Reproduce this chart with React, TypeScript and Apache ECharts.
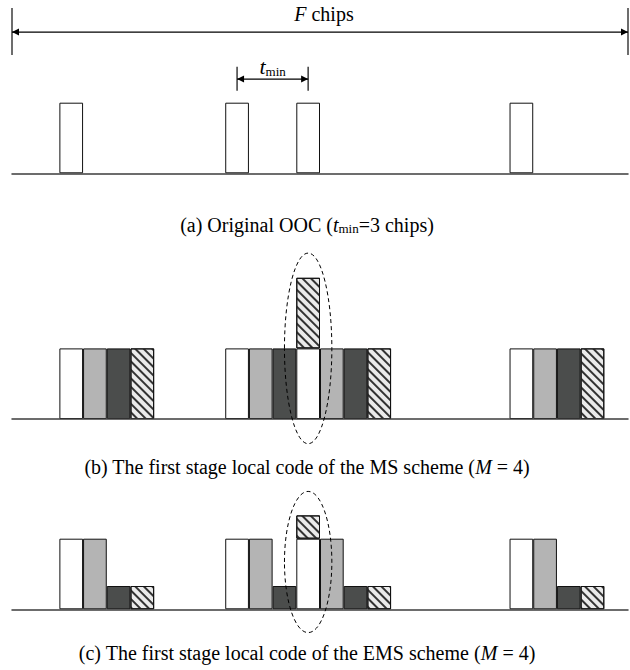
import React, { useEffect, useRef } from 'react';
import * as echarts from 'echarts';

// ---- data ----
const F_CHIPS = 26;
const chipCategories = [
  '0', '1', '2', '3', '4', '5', '6', '7', '8', '9', '10', '11', '12',
  '13', '14', '15', '16', '17', '18', '19', '20', '21', '22', '23', '24', '25',
];

// (a) original OOC: [chip, height]
const oocPulses: [number, number][] = [[2, 1], [9, 1], [12, 1], [21, 1]];

// (b) MS scheme (M = 4)
const msWhite: [number, number][] = [[2, 1], [9, 1], [12, 1], [21, 1]];
const msGray: [number, number][] = [[3, 1], [10, 1], [13, 1], [22, 1]];
const msDark: [number, number][] = [[4, 1], [11, 1], [14, 1], [23, 1]];
const msHatch: [number, number][] = [[5, 1], [12, 1], [15, 1], [24, 1]];

// (c) EMS scheme (M = 4)
const emsWhite: [number, number][] = [[2, 1], [9, 1], [12, 1], [21, 1]];
const emsGray: [number, number][] = [[3, 1], [10, 1], [13, 1], [22, 1]];
const emsDark: [number, number][] = [[4, 0.33], [11, 0.33], [14, 0.33], [23, 0.33]];
const emsHatch: [number, number][] = [[5, 0.33], [12, 0.33], [15, 0.33], [24, 0.33]];

const captionA = '(a) Original OOC ({t|t}{sub|min}=3 chips)';
const captionB = '(b) The first stage local code of the MS scheme ({i|M} = 4)';
const captionC = '(c) The first stage local code of the EMS scheme ({i|M} = 4)';

// ---- helpers ----
const toRow = (pairs: [number, number][]) => {
  const row: (number | string)[] = chipCategories.map(() => '-');
  pairs.forEach(([c, v]) => { row[c] = v; });
  return row;
};

const FONT = '"Liberation Serif", "Times New Roman", serif';
const WHITE = '#ffffff';
const GRAY = '#b4b4b4';
const DARK = '#4b4d4c';
const HATCH_BG = '#ebebeb';

const hatchDecal = {
  symbol: 'rect',
  symbolSize: 1,
  dashArrayX: [1, 0],
  dashArrayY: [1.1, 4],
  rotation: Math.PI / 4,
  color: '#333333',
};

const barSeries = (grid: number, name: string, pairs: [number, number][], color: string, hatch = false) => ({
  type: 'bar',
  name,
  xAxisIndex: grid,
  yAxisIndex: grid,
  stack: 'panel' + grid,
  barWidth: '100%',
  barCategoryGap: 0,
  data: toRow(pairs),
  itemStyle: {
    color,
    borderColor: '#111',
    borderWidth: 1,
    ...(hatch ? { decal: hatchDecal } : {}),
  },
  emphasis: { disabled: true },
  silent: true,
});

const baselines = [173.3, 419, 609.3];
const unit = 70.6;

export default function App() {
  const ref = useRef<HTMLDivElement>(null);
  useEffect(() => {
    const el = ref.current!;
    const chart = echarts.init(el, null, { renderer: 'svg' });
    const grids = baselines.map((b) => ({
      left: 12, right: 2, top: b - 2 * unit, height: 2 * unit, containLabel: false,
    }));
    chart.setOption({
      animation: false,
      backgroundColor: '#fff',
      grid: grids,
      xAxis: grids.map((_, i) => ({
        type: 'category',
        gridIndex: i,
        data: chipCategories,
        boundaryGap: true,
        axisLine: { show: true, lineStyle: { color: '#3c3c3c', width: 1.5 } },
        axisTick: { show: false },
        axisLabel: { show: false },
        splitLine: { show: false },
        z: 5,
      })),
      yAxis: grids.map((_, i) => ({
        type: 'value', gridIndex: i, min: 0, max: 2, show: false, splitLine: { show: false },
      })),
      series: [
        barSeries(0, 'OOC', oocPulses, WHITE),
        barSeries(1, 'MS white', msWhite, WHITE),
        barSeries(1, 'MS gray', msGray, GRAY),
        barSeries(1, 'MS dark', msDark, DARK),
        barSeries(1, 'MS hatch', msHatch, HATCH_BG, true),
        barSeries(2, 'EMS white', emsWhite, WHITE),
        barSeries(2, 'EMS gray', emsGray, GRAY),
        barSeries(2, 'EMS dark', emsDark, DARK),
        barSeries(2, 'EMS hatch', emsHatch, HATCH_BG, true),
      ],
    });

    const P = (i: number, x: number, y: number) =>
      chart.convertToPixel({ xAxisIndex: i, yAxisIndex: i }, [x, y]) as number[];
    const c0 = P(0, 0, 0);
    const chipW = P(0, 1, 0)[0] - c0[0];
    const unitPx = c0[1] - P(0, 0, 1)[1];
    const leftX = c0[0] - chipW / 2;
    const rightX = P(0, F_CHIPS - 1, 0)[0] + chipW / 2;
    const yA = (v: number) => P(0, 0, v)[1];

    const arrowHead = (x: number, y: number, dir: number) => ({
      type: 'polygon',
      shape: { points: [[x, y], [x - dir * 7, y - 3.5], [x - dir * 7, y + 3.5]] },
      style: { fill: '#000' },
      z: 100,
    });
    const hLine = (x1: number, x2: number, y: number) => ({
      type: 'line', shape: { x1, y1: y, x2, y2: y }, style: { stroke: '#000', lineWidth: 1.3 }, z: 100,
    });
    const vLine = (x: number, y1: number, y2: number) => ({
      type: 'line', shape: { x1: x, y1, x2: x, y2 }, style: { stroke: '#3c3c3c', lineWidth: 1.5 }, z: 100,
    });

    const fy = yA(2.0);
    const tx1 = P(0, oocPulses[1][0], 0)[0];
    const tx2 = P(0, oocPulses[2][0], 0)[0];
    const ty = yA(1.335);

    const ellB = P(1, 12, 1);
    const ellC = P(2, 12, 0.67);

    const graphic: any[] = [
      vLine(leftX, yA(2.34), yA(1.675)),
      vLine(rightX, yA(2.34), yA(1.675)),
      hLine(leftX, rightX, fy),
      arrowHead(leftX, fy, -1),
      arrowHead(rightX, fy, 1),
      {
        type: 'text', z: 100,
        style: {
          x: (leftX + rightX) / 2 + 4, y: yA(2.25), text: '{i|F} chips',
          textAlign: 'center', textVerticalAlign: 'middle',
          font: `20px ${FONT}`, fill: '#000',
          rich: { i: { fontStyle: 'italic', fontSize: 20, fontFamily: FONT } },
        },
      },
      vLine(tx1, yA(1.51), yA(1.17)),
      vLine(tx2, yA(1.51), yA(1.17)),
      hLine(tx1, tx2, ty),
      arrowHead(tx1, ty, -1),
      arrowHead(tx2, ty, 1),
      {
        type: 'text', z: 100,
        style: {
          x: (tx1 + tx2) / 2, y: yA(1.51), text: '{t|t}{s|min}',
          textAlign: 'center', textVerticalAlign: 'middle',
          font: `20px ${FONT}`, fill: '#000',
          rich: {
            t: { fontStyle: 'italic', fontSize: 22, fontFamily: FONT },
            s: { fontSize: 13, fontFamily: FONT, verticalAlign: 'bottom' },
          },
        },
      },
      {
        type: 'ellipse', z: 110,
        shape: { cx: ellB[0], cy: ellB[1], rx: chipW, ry: 1.35 * unitPx },
        style: { fill: 'none', stroke: '#000', lineWidth: 1, lineDash: [4, 3] },
      },
      {
        type: 'ellipse', z: 110,
        shape: { cx: ellC[0], cy: ellC[1], rx: chipW, ry: 1.0 * unitPx },
        style: { fill: 'none', stroke: '#000', lineWidth: 1, lineDash: [4, 3] },
      },
    ];

    const caption = (text: string, y: number) => ({
      type: 'text', z: 100,
      style: {
        x: 307, y, text, textAlign: 'center', textVerticalAlign: 'middle',
        font: `20px ${FONT}`, fill: '#000',
        rich: {
          t: { fontStyle: 'italic', fontSize: 20, fontFamily: FONT },
          sub: { fontSize: 13, fontFamily: FONT, verticalAlign: 'bottom' },
          i: { fontStyle: 'italic', fontSize: 20, fontFamily: FONT },
        },
      },
    });
    graphic.push(caption(captionA, 225));
    graphic.push(caption(captionB, 467));
    graphic.push(caption(captionC, 653));

    chart.setOption({ graphic });
    return () => chart.dispose();
  }, []);
  return <div ref={ref} style={{ position: 'absolute', left: 0, top: 0, width: 630, height: 670 }} />;
}
